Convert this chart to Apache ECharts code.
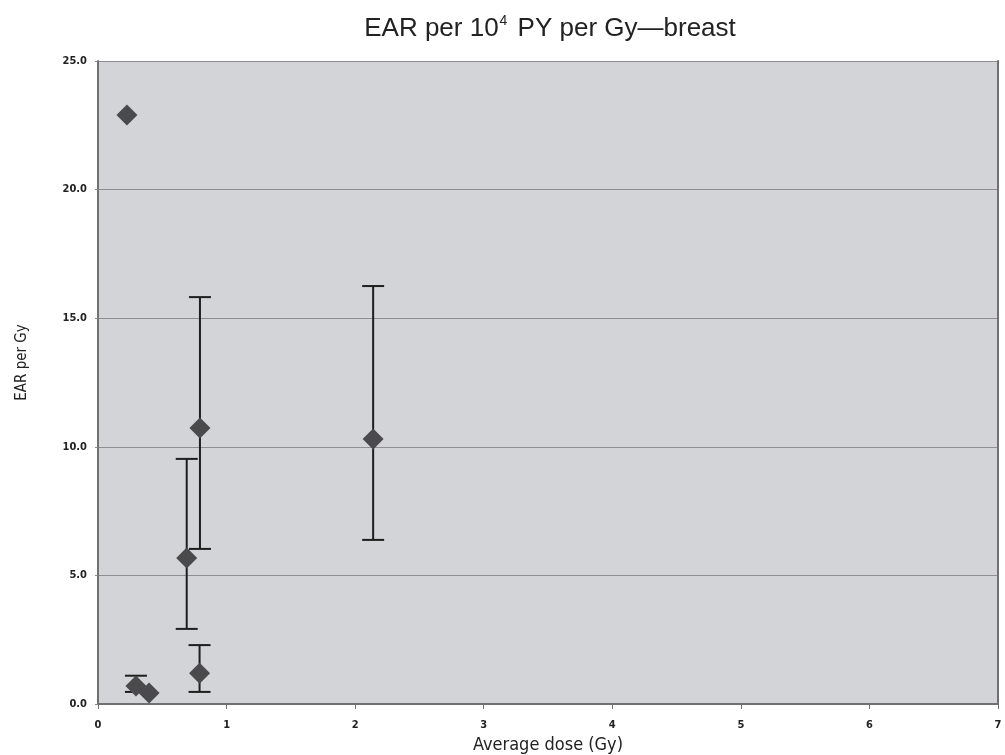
<!DOCTYPE html>
<html>
<head>
<meta charset="utf-8">
<script src="https://cdn.jsdelivr.net/npm/echarts@6/dist/echarts.min.js"></script>
<style>html,body{margin:0;padding:0;background:#fff}#c{width:1005px;height:755px}</style>
</head>
<body>
<div id="c"></div>
<script>
// Data
const doses = [0.225, 0.295, 0.397, 0.69, 0.793, 0.79, 2.14];
const earPerGy = [22.9, 0.70, 0.43, 5.68, 10.73, 1.20, 10.30];
const lowerCI = [null, 0.47, null, 2.92, 6.03, 0.47, 6.38];
const upperCI = [null, 1.10, null, 9.53, 15.82, 2.29, 16.25];
const xTicks = [0, 1, 2, 3, 4, 5, 6, 7];
const yTicks = [0, 5, 10, 15, 20, 25];

const points = doses.map((d, i) => [d, earPerGy[i]]);
const bars = [];
doses.forEach((d, i) => { if (lowerCI[i] != null) bars.push([d, lowerCI[i], upperCI[i]]); });

const labelFont = "'Liberation Sans Narrow','DejaVu Sans Condensed','Open Sans',sans-serif";
const titleFont = "'Liberation Sans',Arial,sans-serif";

const chart = echarts.init(document.getElementById('c'), null, {renderer: 'canvas'});
chart.setOption({
  animation: false,
  backgroundColor: '#ffffff',
  title: {
    text: '{a|EAR per 10}{s|4}{a| PY per Gy—breast}',
    left: 545, top: 9, textAlign: 'center',
    textStyle: {
      fontWeight: 'normal',
      rich: {
        a: {fontFamily: titleFont, fontSize: 26, fontWeight: 'normal', color: '#222', lineHeight: 30},
        s: {fontFamily: titleFont, fontSize: 14, fontWeight: 'normal', color: '#222', lineHeight: 30, padding: [0, 3, 15, 1]}
      }
    }
  },
  grid: {left: 98, right: 7, top: 61, bottom: 51, show: true, backgroundColor: '#d3d4d7', borderWidth: 0,
    containLabel: false, outerBoundsMode: 'none'},
  xAxis: {
    type: 'value', min: 0, max: 7, interval: 1,
    name: 'Average dose (Gy)', nameLocation: 'middle', nameGap: 31,
    nameTextStyle: {fontFamily: labelFont, fontSize: 18, color: '#222'},
    axisLine: {show: true, onZero: false, lineStyle: {color: '#707070', width: 2}},
    axisTick: {show: true, length: 5, lineStyle: {color: '#707070'}},
    axisLabel: {fontFamily: labelFont, fontWeight: 'bold', fontSize: 11, color: '#222', margin: 16,
      formatter: v => xTicks.includes(v) ? String(v) : ''},
    splitLine: {show: false}
  },
  yAxis: [{
    type: 'value', min: 0, max: 25, interval: 5,
    name: 'EAR per Gy', nameLocation: 'middle', nameGap: 68, nameRotate: 90,
    nameTextStyle: {fontFamily: labelFont, fontSize: 15, color: '#222', padding: [0, 0, 0, 40]},
    axisLine: {show: true, lineStyle: {color: '#707070', width: 2}},
    axisTick: {show: true, length: 3, lineStyle: {color: '#888'}},
    axisLabel: {fontFamily: labelFont, fontWeight: 'bold', fontSize: 11, color: '#222', margin: 11,
      formatter: v => yTicks.includes(v) ? v.toFixed(1) : ''},
    splitLine: {show: true, lineStyle: {color: '#8e8e8e', width: 1}}
  }, {
    type: 'value', min: 0, max: 25, position: 'right',
    axisLine: {show: true, lineStyle: {color: '#707070', width: 2}},
    axisTick: {show: false}, axisLabel: {show: false}, splitLine: {show: false}
  }],
  series: [{
    type: 'custom',
    z: 2,
    data: bars,
    renderItem: (params, api) => {
      const x = api.value(0);
      const lo = api.coord([x, api.value(1)]);
      const hi = api.coord([x, api.value(2)]);
      const half = 11;
      const style = {stroke: '#1e1e1e', lineWidth: 2};
      return {type: 'group', children: [
        {type: 'line', shape: {x1: lo[0], y1: lo[1], x2: hi[0], y2: hi[1]}, style},
        {type: 'line', shape: {x1: lo[0] - half, y1: lo[1], x2: lo[0] + half, y2: lo[1]}, style},
        {type: 'line', shape: {x1: hi[0] - half, y1: hi[1], x2: hi[0] + half, y2: hi[1]}, style}
      ]};
    }
  }, {
    type: 'scatter',
    z: 3,
    symbol: 'diamond',
    symbolSize: [21, 21],
    itemStyle: {color: '#4a4a4c', opacity: 1},
    data: points
  }]
});
</script>
</body>
</html>
